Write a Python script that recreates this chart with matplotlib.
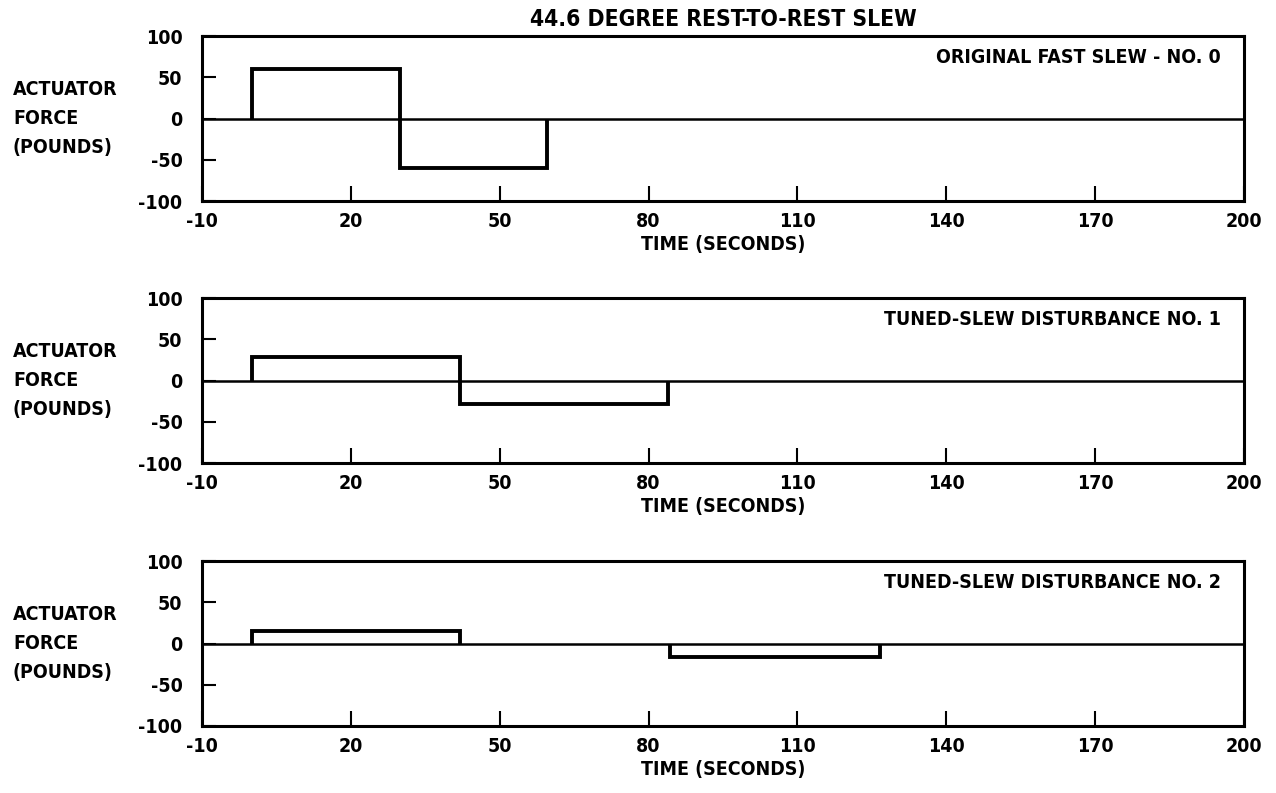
import matplotlib
import matplotlib.pyplot as plt
matplotlib.use('Agg')

# force pulses per panel: start time, end time (s) and level (lb)
pulse_start_0 = [0, 30]
pulse_end_0 = [30, 59.5]
pulse_level_0 = [60, -60]
pulse_start_1 = [0, 42]
pulse_end_1 = [42, 84]
pulse_level_1 = [28, -29]
pulse_start_2 = [0, 84.3]
pulse_end_2 = [42, 126.6]
pulse_level_2 = [15, -16]

panel_names = ["ORIGINAL FAST SLEW - NO. 0",
               "TUNED-SLEW DISTURBANCE NO. 1",
               "TUNED-SLEW DISTURBANCE NO. 2"]
x_ticks = [-10, 20, 50, 80, 110, 140, 170, 200]
y_ticks = [-100, -50, 0, 50, 100]

plt.rcParams['font.family'] = ['DejaVu Sans']
plt.rcParams['font.stretch'] = 'condensed'
plt.rcParams['font.weight'] = 'bold'
plt.rcParams['axes.unicode_minus'] = False


def slew_plot():
    """three stacked actuator force panels"""
    fig = plt.figure(figsize=(12.76, 7.93), dpi=100)
    left, width, height = 0.1583, 0.8166, 0.208
    bottoms = [0.7465, 0.4161, 0.0845]
    data = [(pulse_start_0, pulse_end_0, pulse_level_0),
            (pulse_start_1, pulse_end_1, pulse_level_1),
            (pulse_start_2, pulse_end_2, pulse_level_2)]

    for bottom, (starts, ends, levels), name in zip(bottoms, data, panel_names):
        ax = fig.add_axes([left, bottom, width, height])
        ax.axhline(0, color='black', lw=1.8)
        for s, e, lv in zip(starts, ends, levels):
            ax.stairs([lv], [s, e], baseline=0, color='black', lw=2.8)
        ax.set_xlim(-10, 200)
        ax.set_ylim(-100, 100)
        ax.set_xticks(x_ticks)
        ax.set_yticks(y_ticks)
        ax.tick_params(axis='x', direction='in', length=11, width=1.5,
                       pad=8, labelsize=14)
        ax.tick_params(axis='y', direction='in', length=10, width=1.5,
                       pad=14, labelsize=14)
        for sp in ax.spines.values():
            sp.set_linewidth(2.2)
        ax.set_xlabel("TIME (SECONDS)", fontsize=14, fontweight='bold',
                      labelpad=3)
        ax.text(0.978, 0.868, name, transform=ax.transAxes, ha='right',
                va='center', fontsize=14, fontweight='bold')
        ax.annotate("ACTUATOR\nFORCE\n(POUNDS)", xy=(13 / 1276, 0.5),
                    xycoords=('figure fraction', 'axes fraction'),
                    ha='left', va='center', fontsize=14, fontweight='bold',
                    linespacing=1.65)

    fig.text(left + width / 2, 1 - 19 / 793, "44.6 DEGREE REST-TO-REST SLEW",
             ha='center', va='center', fontsize=16.4, fontweight='bold')
    fig.savefig("out.png", dpi=100)


if __name__ == "__main__":
    slew_plot()
